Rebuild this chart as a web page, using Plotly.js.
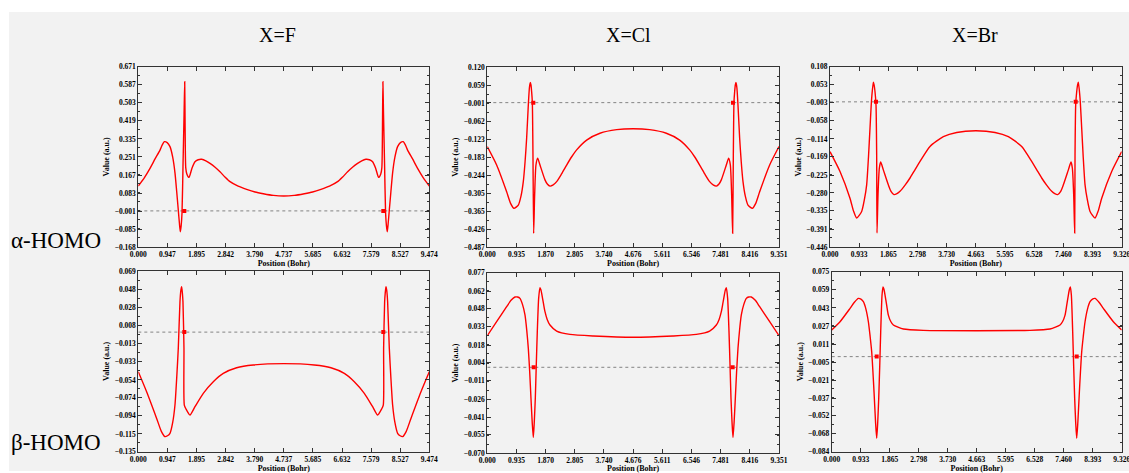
<!DOCTYPE html>
<html>
<head>
<meta charset="utf-8">
<script src="https://cdn.plot.ly/plotly-3.0.1.min.js"></script>
<style>html,body{margin:0;padding:0;background:#fff}#c{width:1129px;height:473px}</style>
</head>
<body>
<div id="c"></div>
<script>
// ---------- data ----------
const columnTitles = ["X=F", "X=Cl", "X=Br"];
const rowTitles = ["α-HOMO", "β-HOMO"];

// alpha, X=F
const fAlphaX = [0,0.2,0.381,0.55,0.707,0.78,0.847,0.94,1.032,1.12,1.195,1.25,1.302,1.34,1.368,1.395,1.423,1.455,1.49,1.511,1.525,1.545,1.58,1.651,1.75,1.846,1.95,2.064,2.2,2.335,2.5,2.66,2.82,2.986,3.25,3.527,3.8,4.07,4.4,4.737,
  5.074,5.404,5.674,5.947,6.224,6.488,6.654,6.814,6.974,7.139,7.274,7.41,7.524,7.628,7.724,7.823,7.894,7.929,7.949,7.963,7.984,8.019,8.051,8.079,8.106,8.134,8.172,8.224,8.279,8.354,8.442,8.534,8.627,8.694,8.767,8.924,9.093,9.274,9.474];
const fAlphaY = [0.116,0.155,0.198,0.243,0.283,0.307,0.322,0.318,0.299,0.250,0.176,0.090,0.004,-0.060,-0.097,-0.070,-0.010,0.206,0.450,0.601,0.380,0.200,0.172,0.156,0.200,0.229,0.238,0.240,0.233,0.221,0.203,0.182,0.158,0.136,0.115,0.100,0.088,0.080,0.072,0.069,
  0.072,0.080,0.088,0.100,0.115,0.136,0.158,0.182,0.203,0.221,0.233,0.240,0.238,0.229,0.200,0.156,0.172,0.200,0.380,0.601,0.450,0.206,-0.010,-0.070,-0.097,-0.060,0.004,0.090,0.176,0.250,0.299,0.318,0.322,0.307,0.283,0.243,0.198,0.155,0.116];
const fAlphaNodeX = [1.498, 7.976];

// alpha, X=Cl
const clAlphaX = [0,0.299,0.620,0.75,0.855,0.994,1.08,1.154,1.21,1.261,1.315,1.35,1.379,1.40,1.421,1.443,1.464,1.486,1.518,1.560,1.614,1.689,1.849,1.93,2.009,2.10,2.223,2.38,2.544,2.70,2.864,3.185,3.612,4.147,4.676,
  5.204,5.739,6.166,6.487,6.651,6.807,6.971,7.128,7.251,7.342,7.421,7.502,7.662,7.737,7.791,7.833,7.865,7.887,7.908,7.930,7.951,7.972,8.001,8.036,8.090,8.141,8.197,8.271,8.357,8.496,8.601,8.731,9.052,9.351];
const clAlphaY = [-0.148,-0.210,-0.300,-0.340,-0.356,-0.345,-0.315,-0.266,-0.200,-0.120,-0.008,0.050,0.068,0.060,0.037,0.003,-0.176,-0.440,-0.311,-0.210,-0.187,-0.210,-0.260,-0.275,-0.281,-0.278,-0.266,-0.240,-0.210,-0.183,-0.159,-0.126,-0.103,-0.091,-0.088,
  -0.091,-0.103,-0.126,-0.159,-0.183,-0.210,-0.240,-0.266,-0.278,-0.281,-0.275,-0.260,-0.210,-0.187,-0.210,-0.311,-0.440,-0.176,0.003,0.037,0.060,0.068,0.050,-0.008,-0.120,-0.200,-0.266,-0.315,-0.345,-0.356,-0.340,-0.300,-0.210,-0.148];
const clAlphaNodeX = [1.475, 7.876];

// alpha, X=Br
const brAlphaX = [0,0.320,0.639,0.75,0.853,1.012,1.10,1.172,1.23,1.279,1.332,1.386,1.41,1.439,1.471,1.492,1.503,1.535,1.577,1.620,1.705,1.865,1.95,2.046,2.14,2.238,2.40,2.558,2.72,2.878,3.197,3.624,4.050,4.663,
  5.276,5.702,6.129,6.448,6.606,6.768,6.926,7.088,7.186,7.280,7.376,7.461,7.621,7.706,7.749,7.791,7.823,7.834,7.855,7.887,7.916,7.940,7.994,8.047,8.096,8.154,8.226,8.314,8.473,8.576,8.687,9.006,9.326];
const brAlphaY = [-0.153,-0.214,-0.296,-0.335,-0.357,-0.337,-0.300,-0.255,-0.170,-0.081,0.011,0.060,0.052,0.031,-0.010,-0.163,-0.403,-0.285,-0.204,-0.185,-0.209,-0.255,-0.275,-0.285,-0.282,-0.275,-0.256,-0.234,-0.208,-0.183,-0.137,-0.107,-0.094,-0.089,
  -0.094,-0.107,-0.137,-0.183,-0.208,-0.234,-0.256,-0.275,-0.282,-0.285,-0.275,-0.255,-0.209,-0.185,-0.204,-0.285,-0.403,-0.163,-0.010,0.031,0.052,0.060,0.011,-0.081,-0.170,-0.255,-0.300,-0.337,-0.357,-0.335,-0.296,-0.214,-0.153];
const brAlphaNodeX = [1.471, 7.855];

// beta, X=F
const fBetaX = [0,0.271,0.597,0.75,0.868,0.95,1.031,1.12,1.194,1.25,1.302,1.357,1.385,1.411,1.435,1.454,1.487,1.498,1.552,1.682,1.845,2.116,2.442,2.767,3.201,3.744,4.737,
  5.730,6.273,6.707,7.032,7.358,7.629,7.792,7.922,7.976,7.987,8.020,8.039,8.063,8.089,8.117,8.172,8.224,8.280,8.354,8.443,8.524,8.606,8.724,8.877,9.203,9.474];
const fBetaY = [-0.0447,-0.0673,-0.0974,-0.112,-0.118,-0.117,-0.1143,-0.102,-0.0823,-0.052,-0.0183,0.0344,0.047,0.0513,0.044,0.0344,-0.0183,-0.0823,-0.0868,-0.0936,-0.0842,-0.0691,-0.056,-0.0466,-0.0402,-0.0371,-0.0356,
  -0.0371,-0.0402,-0.0466,-0.056,-0.0691,-0.0842,-0.0936,-0.0868,-0.0823,-0.0183,0.0344,0.044,0.0513,0.047,0.0344,-0.0183,-0.052,-0.0823,-0.102,-0.1143,-0.117,-0.118,-0.112,-0.0974,-0.0673,-0.0447];
const fBetaNodeX = [1.498, 7.976];

// beta, X=Cl
const clBetaX = [0,0.299,0.620,0.76,0.887,0.97,1.047,1.13,1.208,1.265,1.315,1.36,1.400,1.44,1.475,1.505,1.539,1.57,1.603,1.646,1.689,1.72,1.753,1.80,1.849,1.92,2.009,2.223,2.650,3.398,4.676,
  5.953,6.701,7.128,7.342,7.431,7.502,7.551,7.598,7.631,7.662,7.705,7.748,7.781,7.812,7.846,7.876,7.911,7.951,7.991,8.036,8.086,8.143,8.221,8.304,8.381,8.464,8.591,8.731,9.052,9.351];
const clBetaY = [0.0257,0.0371,0.0493,0.0545,0.0572,0.0572,0.0561,0.0510,0.0426,0.030,0.0154,-0.004,-0.0252,-0.045,-0.0572,-0.045,-0.0252,0.002,0.0290,0.0561,0.0648,0.0630,0.0588,0.052,0.0453,0.039,0.0344,0.0295,0.0268,0.0255,0.0244,
  0.0255,0.0268,0.0295,0.0344,0.039,0.0453,0.052,0.0588,0.0630,0.0648,0.0561,0.0290,0.002,-0.0252,-0.045,-0.0572,-0.045,-0.0252,-0.004,0.0154,0.030,0.0426,0.0510,0.0561,0.0572,0.0572,0.0545,0.0493,0.0371,0.0257];
const clBetaNodeX = [1.486, 7.865];

// beta, X=Br
const brBetaX = [0,0.268,0.590,0.73,0.858,0.94,1.018,1.10,1.179,1.235,1.286,1.361,1.41,1.447,1.48,1.512,1.545,1.576,1.619,1.651,1.68,1.715,1.77,1.822,1.90,1.983,2.305,2.948,4.663,
  6.378,7.021,7.343,7.426,7.504,7.556,7.611,7.646,7.675,7.707,7.750,7.781,7.814,7.846,7.879,7.916,7.965,8.040,8.091,8.147,8.226,8.308,8.386,8.468,8.596,8.736,9.058,9.326];
const brBetaY = [0.0235,0.0308,0.0426,0.0480,0.0514,0.0508,0.0485,0.0420,0.0308,0.018,0.0043,-0.031,-0.058,-0.0722,-0.058,-0.0369,-0.008,0.0220,0.0544,0.0615,0.0595,0.0544,0.045,0.0367,0.031,0.0279,0.0244,0.0232,0.0229,
  0.0232,0.0244,0.0279,0.031,0.0367,0.045,0.0544,0.0595,0.0615,0.0544,0.0220,-0.008,-0.0369,-0.058,-0.0722,-0.058,-0.031,0.0043,0.018,0.0308,0.0420,0.0485,0.0508,0.0514,0.0480,0.0426,0.0308,0.0235];
const brBetaNodeX = [1.447, 7.879];

// tick labels
const xTicksF  = ["0.000","0.947","1.895","2.842","3.790","4.737","5.685","6.632","7.579","8.527","9.474"];
const xTicksCl = ["0.000","0.935","1.870","2.805","3.740","4.676","5.611","6.546","7.481","8.416","9.351"];
const xTicksBr = ["0.000","0.933","1.865","2.798","3.730","4.663","5.595","6.528","7.460","8.393","9.326"];
const yTicksFAlpha  = ["-0.168","-0.085","-0.001","0.083","0.167","0.251","0.335","0.419","0.503","0.587","0.671"];
const yTicksClAlpha = ["-0.487","-0.426","-0.365","-0.305","-0.244","-0.183","-0.123","-0.062","-0.001","0.059","0.120"];
const yTicksBrAlpha = ["-0.446","-0.391","-0.335","-0.280","-0.225","-0.169","-0.114","-0.058","-0.003","0.053","0.108"];
const yTicksFBeta   = ["-0.135","-0.115","-0.094","-0.074","-0.054","-0.033","-0.013","0.008","0.028","0.048","0.069"];
const yTicksClBeta  = ["-0.070","-0.055","-0.041","-0.026","-0.011","0.004","0.018","0.033","0.048","0.062","0.077"];
const yTicksBrBeta  = ["-0.084","-0.068","-0.052","-0.037","-0.021","-0.005","0.011","0.027","0.043","0.059","0.075"];
const nodeY = [0, 0];

const xTitle = "Position (Bohr)";
const yTitle = "Value (a.u.)";

// ---------- build ----------
const W = 1129, H = 473;
const panels = [
  {x: fAlphaX,  y: fAlphaY,  nx: fAlphaNodeX,  xt: xTicksF,  yt: yTicksFAlpha,  px: [138.3, 429.3], py: [66.7, 247]},
  {x: clAlphaX, y: clAlphaY, nx: clAlphaNodeX, xt: xTicksCl, yt: yTicksClAlpha, px: [487.3, 779],   py: [67, 247.3]},
  {x: brAlphaX, y: brAlphaY, nx: brAlphaNodeX, xt: xTicksBr, yt: yTicksBrAlpha, px: [830, 1121.7],  py: [66.7, 247]},
  {x: fBetaX,   y: fBetaY,   nx: fBetaNodeX,   xt: xTicksF,  yt: yTicksFBeta,   px: [138.3, 429.3], py: [271, 451.7]},
  {x: clBetaX,  y: clBetaY,  nx: clBetaNodeX,  xt: xTicksCl, yt: yTicksClBeta,  px: [487.3, 779],   py: [272.7, 453.3]},
  {x: brBetaX,  y: brBetaY,  nx: brBetaNodeX,  xt: xTicksBr, yt: yTicksBrBeta,  px: [831.7, 1121.7],py: [271.7, 451.7]}
];
const num = s => parseFloat(s);
const lab = s => s.replace("-", "\u2212");
const tickFont = {family: "Liberation Serif", size: 7.5, color: "#000", weight: "bold"};
const titleFont = {family: "Liberation Serif", size: 8, color: "#000", weight: "bold"};

const data = [];
const layout = {
  width: W, height: H,
  margin: {l: 0, r: 0, t: 0, b: 0},
  paper_bgcolor: "#ffffff",
  plot_bgcolor: "rgba(0,0,0,0)",
  showlegend: false,
  shapes: [{type: "rect", xref: "paper", yref: "paper", x0: 9/W, x1: 1, y0: 1 - 471/H, y1: 1 - 12/H,
            fillcolor: "#f2f2f2", line: {width: 0}, layer: "below"}],
  annotations: []
};

panels.forEach((p, i) => {
  const k = i === 0 ? "" : String(i + 1);
  const xa = "x" + k, ya = "y" + k;
  const xmax = num(p.xt[p.xt.length - 1]);
  const ymin = num(p.yt[0]), ymax = num(p.yt[p.yt.length - 1]);
  data.push({x: [0, xmax], y: nodeY, xaxis: xa, yaxis: ya, mode: "lines",
             line: {color: "#555", width: 0.7, dash: "dot"}, hoverinfo: "skip"});
  data.push({x: p.x, y: p.y, xaxis: xa, yaxis: ya, mode: "lines",
             line: {color: "#ff0000", width: 1.4, shape: "spline", smoothing: 0.6}});
  data.push({x: p.nx, y: nodeY, xaxis: xa, yaxis: ya, mode: "markers",
             marker: {color: "#ff0000", size: 4, symbol: "square"}});
  const ystep = (ymax - ymin) / 10;
  layout["xaxis" + k] = {
    domain: [p.px[0] / W, p.px[1] / W], anchor: ya, range: [0, xmax],
    tickvals: p.xt.map(num), ticktext: p.xt.map(lab), ticklabeloverflow: "allow",
    ticks: "inside", ticklen: 4, tickcolor: "#333", tickwidth: 1,
    showline: true, linecolor: "#333", linewidth: 1, mirror: "ticks",
    showgrid: false, zeroline: false, tickfont: tickFont, automargin: false,
    title: {text: xTitle, font: titleFont, standoff: 1}
  };
  layout["yaxis" + k] = {
    domain: [1 - p.py[1] / H, 1 - p.py[0] / H], anchor: xa, range: [ymin, ymax],
    tickvals: p.yt.map(num), ticktext: p.yt.map(lab), ticklabeloverflow: "allow",
    ticks: "inside", ticklen: 4, tickcolor: "#333", tickwidth: 1,
    minor: {ticks: "inside", ticklen: 2, tickcolor: "#333", dtick: ystep / 2, tick0: ymin, showgrid: false},
    showline: true, linecolor: "#333", linewidth: 1, mirror: "ticks",
    showgrid: false, zeroline: false, tickfont: tickFont, automargin: false,
    title: {text: yTitle, font: titleFont, standoff: 3}
  };
});

const colX = [277, 628, 975];
columnTitles.forEach((t, i) => layout.annotations.push({
  text: t, xref: "paper", yref: "paper", x: colX[i] / W, y: 1 - 35 / H, showarrow: false,
  xanchor: "center", yanchor: "middle", font: {family: "Liberation Serif", size: 20, color: "#000"}
}));
const rowY = [240, 442];
rowTitles.forEach((t, i) => layout.annotations.push({
  text: t, xref: "paper", yref: "paper", x: 56 / W, y: 1 - rowY[i] / H, showarrow: false,
  xanchor: "center", yanchor: "middle", font: {family: "Liberation Serif", size: 23, color: "#000"}
}));

Plotly.newPlot("c", data, layout, {staticPlot: true});
</script>
</body>
</html>
